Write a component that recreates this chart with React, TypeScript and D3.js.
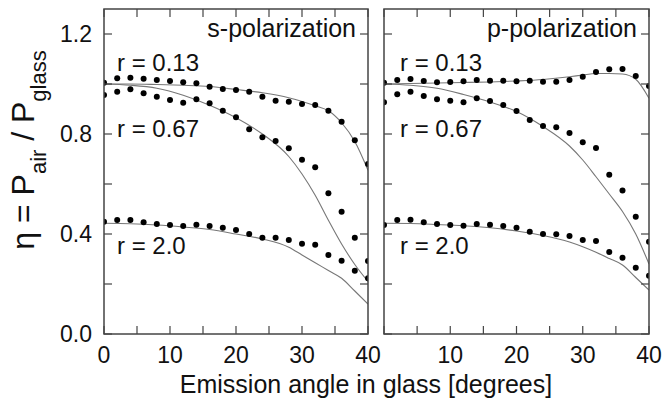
import React from "react";
import * as d3 from "d3";

// measured angles (deg) and theory sample angles
const angles = [0, 2, 4, 6, 8, 10, 12, 14, 16, 18, 20, 22, 24, 26, 28, 30, 32, 34, 36, 38, 40];
const theoryAngles = [0, 4, 8, 12, 16, 20, 24, 28, 30, 32, 34, 36, 38, 40];

// s-polarization, measured
const sDotsR013 = [1.005, 1.023, 1.025, 1.021, 1.016, 1.012, 1.007, 1.003, 0.989, 0.98, 0.976, 0.969, 0.949, 0.933, 0.929, 0.92, 0.916, 0.893, 0.849, 0.775, 0.68];
const sDotsR067 = [0.956, 0.969, 0.979, 0.963, 0.949, 0.936, 0.925, 0.939, 0.923, 0.893, 0.867, 0.819, 0.787, 0.772, 0.743, 0.697, 0.667, 0.563, 0.489, 0.385, 0.292];
const sDotsR20 = [0.449, 0.456, 0.456, 0.447, 0.44, 0.436, 0.432, 0.437, 0.432, 0.425, 0.416, 0.4, 0.385, 0.385, 0.376, 0.361, 0.357, 0.316, 0.293, 0.253, 0.223];
// s-polarization, theory
const sLineR013 = [1.0, 1.0, 0.998, 0.995, 0.99, 0.978, 0.965, 0.945, 0.93, 0.913, 0.893, 0.845, 0.77, 0.655];
const sLineR067 = [1.0, 0.995, 0.983, 0.955, 0.915, 0.865, 0.8, 0.71, 0.64, 0.555, 0.455, 0.36, 0.278, 0.21];
const sLineR20 = [0.443, 0.441, 0.436, 0.428, 0.418, 0.4, 0.38, 0.347, 0.316, 0.285, 0.254, 0.223, 0.172, 0.12];

// p-polarization, measured
const pDotsR013 = [1.005, 1.016, 1.02, 1.012, 1.007, 1.008, 1.011, 1.016, 1.013, 1.013, 1.011, 1.013, 1.009, 1.009, 1.016, 1.029, 1.048, 1.059, 1.06, 1.032, 0.992];
const pDotsR067 = [0.927, 0.959, 0.969, 0.952, 0.939, 0.933, 0.927, 0.943, 0.932, 0.916, 0.892, 0.856, 0.832, 0.827, 0.804, 0.767, 0.744, 0.637, 0.574, 0.469, 0.369];
const pDotsR20 = [0.436, 0.456, 0.457, 0.447, 0.44, 0.436, 0.433, 0.44, 0.437, 0.432, 0.425, 0.409, 0.4, 0.399, 0.392, 0.376, 0.372, 0.328, 0.305, 0.265, 0.233];
// p-polarization, theory
const pLineR013 = [1.0, 1.002, 1.004, 1.006, 1.008, 1.012, 1.018, 1.029, 1.036, 1.042, 1.042, 1.04, 1.019, 0.943];
const pLineR067 = [1.0, 0.995, 0.983, 0.958, 0.928, 0.89, 0.83, 0.752, 0.696, 0.629, 0.56, 0.49, 0.4, 0.28];
const pLineR20 = [0.443, 0.442, 0.438, 0.433, 0.425, 0.412, 0.394, 0.368, 0.349, 0.327, 0.302, 0.276, 0.226, 0.176];

const seriesLabels = ["r = 0.13", "r = 0.67", "r = 2.0"];
const panelTitles = ["s-polarization", "p-polarization"];
const yTicks = [0, 0.2, 0.4, 0.6, 0.8, 1.0, 1.2];
const yTickLabels = [0, 0.4, 0.8, 1.2];
const xTicks = [0, 5, 10, 15, 20, 25, 30, 35, 40];
const xTickLabelsLeft = [0, 10, 20, 30, 40];
const xTickLabelsRight = [10, 20, 30, 40];
const xTitle = "Emission angle in glass [degrees]";

const FONT = '"Liberation Sans", Arial, Helvetica, sans-serif';
const AXIS = "#444";
const TOP = 9, BOTTOM = 334;

const y = d3.scaleLinear().domain([0, 1.3]).range([BOTTOM, TOP]);

type PanelProps = {
  id: string;
  x0: number;
  x1: number;
  dots: number[][];
  lines: number[][];
  title: string;
  labelDx: number;
  xLabels: number[];
  showYLabels: boolean;
};

const Panel = (props: PanelProps) => {
  const x = d3.scaleLinear().domain([0, 40]).range([props.x0, props.x1]);
  const line = d3.line<number>()
    .x((_, i) => x(theoryAngles[i]))
    .y((v) => y(v))
    .curve(d3.curveMonotoneX);
  const labelY = [71, 137, 254];
  const tick = 8;
  return (
    <g>
      <defs>
        <clipPath id={"clip" + props.id}>
          <rect x={props.x0} y={TOP} width={props.x1 - props.x0} height={BOTTOM - TOP} />
        </clipPath>
      </defs>
      <g clipPath={`url(#clip${props.id})`}>
        {props.lines.map((l, k) => (
          <path key={k} d={line(l) || ""} fill="none" stroke="#777" strokeWidth={1.1} />
        ))}
        {props.dots.map((s, k) =>
          s.map((v, i) => (
            <circle key={k + "-" + i} cx={x(angles[i])} cy={y(v)} r={3} fill="#000" />
          ))
        )}
      </g>
      {yTicks.map((t) => (
        <g key={"y" + t}>
          <line x1={props.x0} x2={props.x0 + tick} y1={y(t)} y2={y(t)} stroke={AXIS} strokeWidth={1.2} />
          <line x1={props.x1} x2={props.x1 - tick} y1={y(t)} y2={y(t)} stroke={AXIS} strokeWidth={1.2} />
        </g>
      ))}
      {xTicks.map((t) => (
        <g key={"x" + t}>
          <line x1={x(t)} x2={x(t)} y1={BOTTOM} y2={BOTTOM - tick} stroke={AXIS} strokeWidth={1.2} />
          <line x1={x(t)} x2={x(t)} y1={TOP} y2={TOP + tick} stroke={AXIS} strokeWidth={1.2} />
        </g>
      ))}
      <rect x={props.x0} y={TOP} width={props.x1 - props.x0} height={BOTTOM - TOP} fill="none" stroke={AXIS} strokeWidth={1.5} />
      {props.xLabels.map((t) => (
        <text key={"xl" + t} x={x(t)} y={363} textAnchor="middle" fontSize={23} fill="#111">{t}</text>
      ))}
      {props.showYLabels && yTickLabels.map((t) => (
        <text key={"yl" + t} x={92} y={y(t) + 8} textAnchor="end" fontSize={23} fill="#111">{t.toFixed(1)}</text>
      ))}
      <text x={props.x1 - 12} y={37} textAnchor="end" fontSize={25} fill="#111">{props.title}</text>
      {seriesLabels.map((s, k) => (
        <text key={s} x={props.x0 + props.labelDx} y={labelY[k]} fontSize={24} fill="#111">{s}</text>
      ))}
    </g>
  );
};

const App = () => {
  return (
    <svg width={662} height={403} style={{ position: "fixed", left: 0, top: 0, background: "#fff" }} fontFamily={FONT}>
      <rect width={662} height={403} fill="#fff" />
      <Panel id="s" x0={104} x1={368} dots={[sDotsR013, sDotsR067, sDotsR20]} lines={[sLineR013, sLineR067, sLineR20]}
        title={panelTitles[0]} labelDx={13} xLabels={xTickLabelsLeft} showYLabels={true} />
      <Panel id="p" x0={384} x1={649} dots={[pDotsR013, pDotsR067, pDotsR20]} lines={[pLineR013, pLineR067, pLineR20]}
        title={panelTitles[1]} labelDx={16} xLabels={xTickLabelsRight} showYLabels={false} />
      <text x={366} y={393} textAnchor="middle" fontSize={25} fill="#111">{xTitle}</text>
      <text transform="translate(34,150) rotate(-90)" textAnchor="middle" fontSize={32} fill="#111">
        η = P<tspan fontSize={22} dy={12}>air</tspan><tspan dy={-12}> / P</tspan><tspan fontSize={22} dy={12}>glass</tspan>
      </text>
    </svg>
  );
};

export default App;
